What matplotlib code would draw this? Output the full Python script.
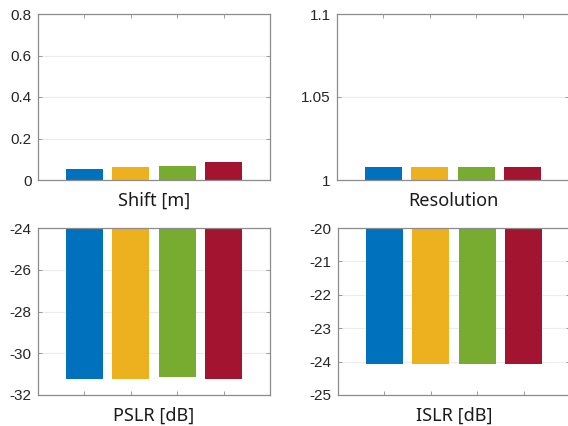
import numpy as np
import matplotlib
matplotlib.use("Agg")
import matplotlib.pyplot as plt

# bar values (4 cases per metric)
positions = [1, 2, 3, 4]
colors = ['#0072BD', '#EDB120', '#77AC30', '#A2142F']

shift = [0.053, 0.063, 0.067, 0.087]
resolution = [1.0078, 1.0078, 1.0077, 1.0078]
pslr = [-31.22, -31.22, -31.14, -31.22]
islr = [-24.06, -24.06, -24.07, -24.06]

titles = ['Shift [m]', 'Resolution', 'PSLR [dB]', 'ISLR [dB]']
ylims = [(0, 0.8), (1, 1.1), (-32, -24), (-25, -20)]
yticks = [[0, 0.2, 0.4, 0.6, 0.8],
          [1, 1.05, 1.1],
          [-32, -30, -28, -26, -24],
          [-25, -24, -23, -22, -21, -20]]
yticklabels = [['0', '0.2', '0.4', '0.6', '0.8'],
               ['1', '1.05', '1.1'],
               ['-32', '-30', '-28', '-26', '-24'],
               ['-25', '-24', '-23', '-22', '-21', '-20']]
values = [shift, resolution, pslr, islr]

fig = plt.figure(figsize=(5.68, 4.26), dpi=100)

# axes boxes in figure fractions (right column is cut by the image edge)
boxes = [
    [38 / 568, 1 - 180 / 426, 232 / 568, 166 / 426],
    [337 / 568, 1 - 180 / 426, 232 / 568, 166 / 426],
    [38 / 568, 1 - 395 / 426, 232 / 568, 167 / 426],
    [338 / 568, 1 - 395 / 426, 232 / 568, 167 / 426],
]

for box, vals, title, yl, yt, ytl in zip(boxes, values, titles, ylims, yticks, yticklabels):
    ax = fig.add_axes(box)
    ax.bar(positions, vals, width=0.8, color=colors, zorder=2)
    ax.set_xlim(0, 5)
    ax.set_ylim(*yl)
    ax.set_xticks(positions)
    ax.set_xticklabels([])
    ax.set_yticks(yt)
    ax.set_yticklabels(ytl, fontfamily='Liberation Sans', fontsize=11, color='#262626')
    ax.grid(axis='y', color='#ececec', linewidth=0.8, zorder=0)
    ax.tick_params(axis='both', direction='in', length=3, width=0.6, color='#8c8c8c',
                   top=True, right=True, pad=4.5)
    for sp in ax.spines.values():
        sp.set_color('#8c8c8c')
        sp.set_linewidth(0.9)
        sp.set_zorder(3)
    ax.set_xlabel(title, fontfamily='Noto Sans', fontsize=13, color='#1a1a1a', labelpad=4)

fig.savefig('out.png', dpi=100)
